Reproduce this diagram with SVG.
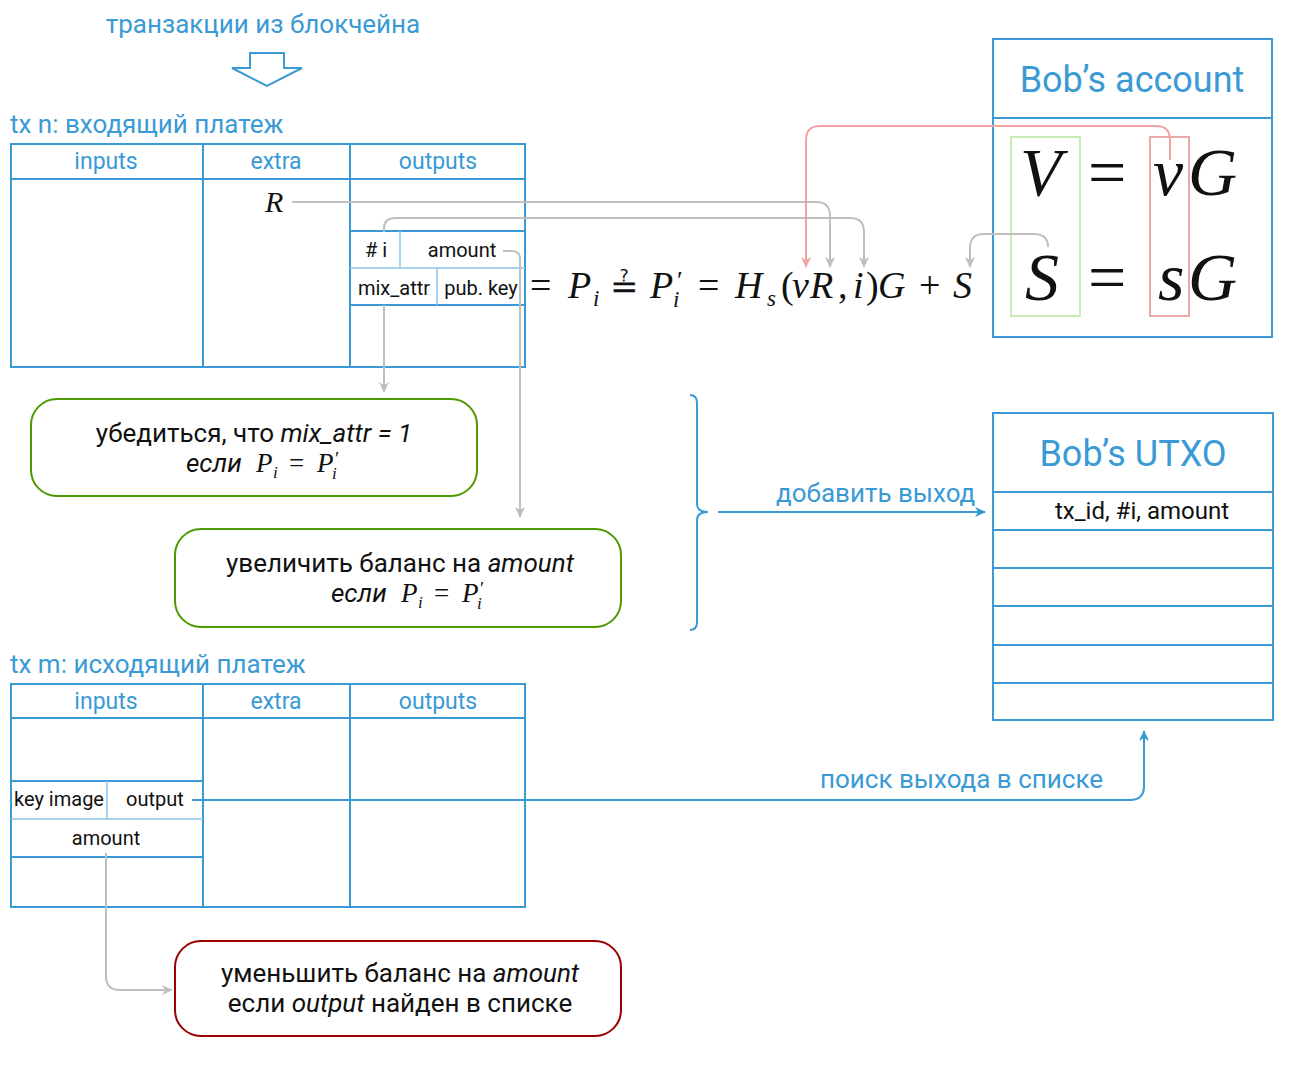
<svg xmlns="http://www.w3.org/2000/svg" width="1300" height="1086" viewBox="0 0 1300 1086">
<style>
.t{font-family:Roboto,'Liberation Sans',sans-serif;}
.blue{fill:#3a9ad5;}
.blk{fill:#111;}
.box{fill:none;stroke:#3a9ad5;stroke-width:2;}
.thin{fill:none;stroke:#8cc3e8;stroke-width:1.5;}
.m{font-family:'Liberation Serif','DejaVu Serif',serif;font-style:italic;fill:#111;}
.mn{font-family:'Liberation Serif','DejaVu Serif',serif;font-style:normal;fill:#111;}
.dq{font-family:'DejaVu Serif',serif;font-style:normal;}
.it{font-style:italic;}
.gray{fill:none;stroke:#bfbfbf;stroke-width:2;}
.pink{fill:none;stroke:#f3a3a3;stroke-width:2;}
.bl{fill:none;stroke:#3a9ad5;stroke-width:2;}
</style>
<defs>
<marker id="ag" markerWidth="12" markerHeight="12" refX="10" refY="6" orient="auto" markerUnits="userSpaceOnUse"><path d="M0,1 L11,6 L0,11 L3,6 z" fill="#bfbfbf"/></marker>
<marker id="ap" markerWidth="12" markerHeight="12" refX="10" refY="6" orient="auto" markerUnits="userSpaceOnUse"><path d="M0,1 L11,6 L0,11 L3,6 z" fill="#f3a3a3"/></marker>
<marker id="ab" markerWidth="12" markerHeight="12" refX="10" refY="6" orient="auto" markerUnits="userSpaceOnUse"><path d="M0,1 L11,6 L0,11 L3,6 z" fill="#3a9ad5"/></marker>
</defs>
<rect width="1300" height="1086" fill="#fff"/>

<g id="source">
<text class="t blue" x="263" y="33" font-size="26" text-anchor="middle">транзакции из блокчейна</text>
<polygon points="250,53 284,53 284,68 302,68 267,86 232,68 250,68" fill="#fff" stroke="#3a9ad5" stroke-width="2"/>
</g>

<g id="txn">
<text class="t blue" x="10" y="133" font-size="26">tx n: входящий платеж</text>
<rect class="box" x="11" y="144" width="514" height="223"/>
<line class="box" x1="11" y1="179" x2="525" y2="179"/>
<line class="box" x1="203" y1="144" x2="203" y2="367"/>
<line class="box" x1="350" y1="144" x2="350" y2="367"/>
<text class="t blue" x="106" y="169" font-size="23" text-anchor="middle">inputs</text>
<text class="t blue" x="276" y="169" font-size="23" text-anchor="middle">extra</text>
<text class="t blue" x="438" y="169" font-size="23" text-anchor="middle">outputs</text>
<text class="m" x="265" y="212" font-size="30">R</text>
<line class="box" x1="350" y1="231" x2="525" y2="231"/>
<line class="box" x1="350" y1="305" x2="525" y2="305"/>
<line class="thin" x1="350" y1="268" x2="525" y2="268"/>
<line class="thin" x1="400" y1="231" x2="400" y2="268"/>
<line class="thin" x1="437" y1="268" x2="437" y2="305"/>
<text class="t blk" x="376" y="257" font-size="20" text-anchor="middle"># i</text>
<text class="t blk" x="462" y="257" font-size="20" text-anchor="middle">amount</text>
<text class="t blk" x="394" y="295" font-size="20" text-anchor="middle">mix_attr</text>
<text class="t blk" x="481" y="295" font-size="20" text-anchor="middle">pub. key</text>
</g>

<g id="formula">
<text class="m" font-size="38"><tspan class="mn" x="530" y="298">=</tspan><tspan x="568" y="298">P</tspan><tspan x="593" y="306" font-size="23">i</tspan><tspan class="dq" x="610" y="298" font-size="34">≟</tspan><tspan x="650" y="298">P</tspan><tspan class="mn" x="677" y="289" font-size="26">′</tspan><tspan x="673" y="307" font-size="23">i</tspan><tspan class="mn" x="698" y="298">=</tspan><tspan x="735" y="298">H</tspan><tspan x="767" y="306" font-size="23">s</tspan><tspan class="mn" x="781" y="298">(</tspan><tspan x="792" y="298">v</tspan><tspan x="810" y="298">R</tspan><tspan class="mn" x="838" y="298">,</tspan><tspan x="853" y="298">i</tspan><tspan class="mn" x="866" y="298">)</tspan><tspan x="878" y="298">G</tspan><tspan class="mn" x="919" y="298">+</tspan><tspan x="953" y="298">S</tspan></text>
</g>

<g id="account">
<rect class="box" x="993" y="39" width="279" height="298"/>
<line class="box" x1="993" y1="118" x2="1272" y2="118"/>
<text class="t blue" x="1132" y="92" font-size="36" text-anchor="middle">Bob’s account</text>
<rect x="1011" y="137" width="69" height="179" fill="none" stroke="#c9ecb6" stroke-width="2"/>
<rect x="1150" y="137" width="39" height="179" fill="none" stroke="#e8a9a9" stroke-width="2"/>
<text class="m" font-size="68"><tspan x="1020" y="195">V</tspan><tspan class="mn" x="1088" y="195">=</tspan><tspan x="1153" y="195">v</tspan><tspan x="1188" y="195">G</tspan></text>
<text class="m" font-size="68"><tspan x="1025" y="300">S</tspan><tspan class="mn" x="1088" y="300">=</tspan><tspan x="1158" y="300">s</tspan><tspan x="1188" y="300">G</tspan></text>
</g>

<g id="check-mix">
<rect x="31" y="399" width="446" height="97" rx="26" fill="#fff" stroke="#4d9900" stroke-width="2"/>
<text class="t blk" x="254" y="442" font-size="26" text-anchor="middle">убедиться, что <tspan class="it">mix_attr = 1</tspan></text>
<text class="t blk" x="186" y="472" font-size="26" font-style="italic">если</text>
<text class="m" font-size="27"><tspan x="256" y="472">P</tspan><tspan x="273" y="478" font-size="17">i</tspan><tspan class="mn" x="289" y="472">=</tspan><tspan x="317" y="472">P</tspan><tspan class="mn" x="335" y="465" font-size="19">′</tspan><tspan x="332" y="479" font-size="17">i</tspan></text>
</g>

<g id="increase">
<rect x="175" y="529" width="446" height="98" rx="26" fill="#fff" stroke="#4d9900" stroke-width="2"/>
<text class="t blk" x="400" y="572" font-size="26" text-anchor="middle">увеличить баланс на <tspan class="it">amount</tspan></text>
<text class="t blk" x="331" y="602" font-size="26" font-style="italic">если</text>
<text class="m" font-size="27"><tspan x="401" y="602">P</tspan><tspan x="418" y="608" font-size="17">i</tspan><tspan class="mn" x="434" y="602">=</tspan><tspan x="462" y="602">P</tspan><tspan class="mn" x="480" y="595" font-size="19">′</tspan><tspan x="477" y="609" font-size="17">i</tspan></text>
</g>

<g id="utxo">
<rect class="box" x="993" y="413" width="280" height="307"/>
<line class="box" x1="993" y1="492" x2="1273" y2="492"/>
<line class="box" x1="993" y1="530" x2="1273" y2="530"/>
<line class="box" x1="993" y1="568" x2="1273" y2="568"/>
<line class="box" x1="993" y1="606" x2="1273" y2="606"/>
<line class="box" x1="993" y1="645" x2="1273" y2="645"/>
<line class="box" x1="993" y1="683" x2="1273" y2="683"/>
<text class="t blue" x="1133" y="466" font-size="36" text-anchor="middle">Bob’s UTXO</text>
<text class="t blk" x="1142" y="519" font-size="24" text-anchor="middle">tx_id, #i, amount</text>
</g>

<g id="txm">
<text class="t blue" x="10" y="673" font-size="26">tx m: исходящий платеж</text>
<rect class="box" x="11" y="684" width="514" height="223"/>
<line class="box" x1="11" y1="718" x2="525" y2="718"/>
<line class="box" x1="203" y1="684" x2="203" y2="907"/>
<line class="box" x1="350" y1="684" x2="350" y2="907"/>
<text class="t blue" x="106" y="709" font-size="23" text-anchor="middle">inputs</text>
<text class="t blue" x="276" y="709" font-size="23" text-anchor="middle">extra</text>
<text class="t blue" x="438" y="709" font-size="23" text-anchor="middle">outputs</text>
<line class="box" x1="11" y1="781" x2="203" y2="781"/>
<line class="box" x1="11" y1="857" x2="203" y2="857"/>
<line class="thin" x1="11" y1="819" x2="203" y2="819"/>
<line class="thin" x1="107" y1="781" x2="107" y2="819"/>
<text class="t blk" x="59" y="806" font-size="20" text-anchor="middle">key image</text>
<text class="t blk" x="155" y="806" font-size="20" text-anchor="middle">output</text>
<text class="t blk" x="106" y="845" font-size="20" text-anchor="middle">amount</text>
</g>

<g id="decrease">
<rect x="175" y="941" width="446" height="95" rx="26" fill="#fff" stroke="#990000" stroke-width="2"/>
<text class="t blk" x="400" y="982" font-size="26" text-anchor="middle">уменьшить баланс на <tspan class="it">amount</tspan></text>
<text class="t blk" x="400" y="1012" font-size="26" text-anchor="middle">если <tspan class="it">output</tspan> найден в списке</text>
</g>

<g id="connectors">
<path class="gray" d="M292,202 H816 Q830,202 830,216 V267" marker-end="url(#ag)"/>
<path class="gray" d="M384,232 V228 Q384,218 396,218 H850 Q864,218 864,232 V267" marker-end="url(#ag)"/>
<path class="gray" d="M503,251 H512 Q520,251 520,259 V517" marker-end="url(#ag)"/>
<path class="gray" d="M384,305 V392" marker-end="url(#ag)"/>
<path class="pink" d="M1170,160 V140 Q1170,126 1156,126 H820 Q806,126 806,140 V267" marker-end="url(#ap)"/>
<path class="gray" d="M1048,247 Q1048,234 1034,234 H984 Q970,234 970,248 V267" marker-end="url(#ag)"/>
<path class="bl" d="M690,395 Q697,395 697,403 V504 Q697,512 708,512 Q697,512 697,520 V622 Q697,630 690,630"/>
<path class="bl" d="M718,512 H985" marker-end="url(#ab)"/>
<text class="t blue" x="776" y="502" font-size="26">добавить выход</text>
<path class="bl" d="M192,800 H1130 Q1144,800 1144,786 V731" marker-end="url(#ab)"/>
<text class="t blue" x="820" y="788" font-size="26">поиск выхода в списке</text>
<path class="gray" d="M106,853 V976 Q106,990 120,990 H172" marker-end="url(#ag)"/>
</g>
</svg>
